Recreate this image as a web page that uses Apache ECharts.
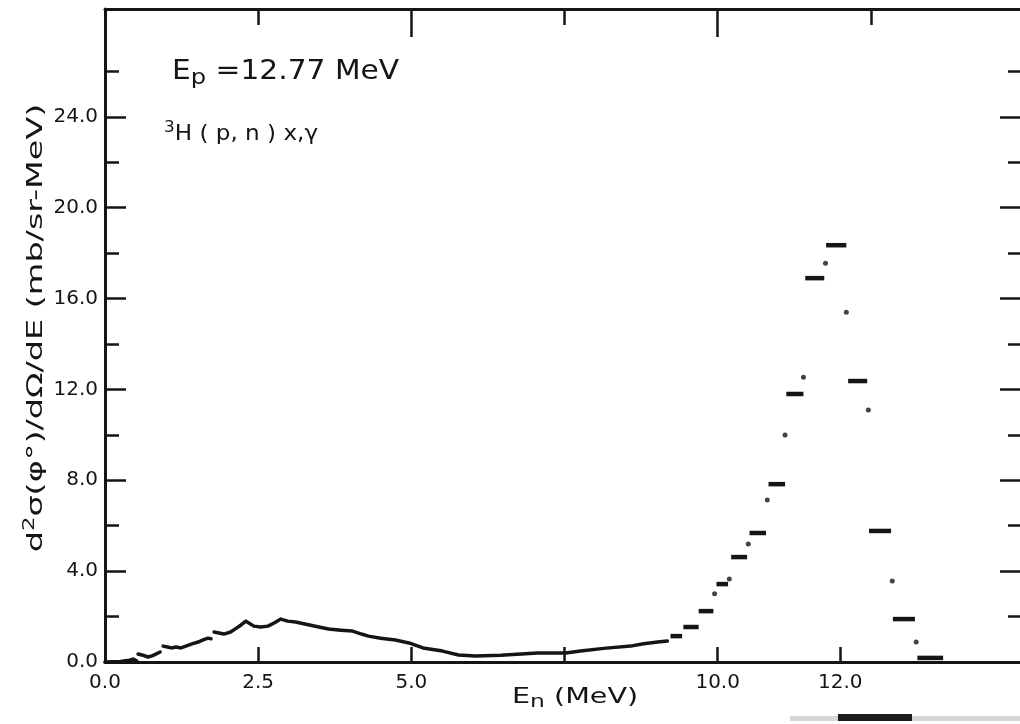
<!DOCTYPE html>
<html>
<head>
<meta charset="utf-8">
<script src="https://cdn.jsdelivr.net/npm/echarts@6/dist/echarts.min.js"></script>
<style>
  html, body { margin: 0; padding: 0; background: #fff; }
  #chart { width: 1020px; height: 724px; }
</style>
</head>
<body>
<div id="chart"></div>
<script>
// Neutron spectrum, 3H(p,n) at Ep = 12.77 MeV: [En (MeV), d2sigma/dOmega/dE (mb/sr-MeV)]
// Continuous low-energy part, drawn as separate pieces (the trace has small gaps).
const lowTraceA = [[0.0, 0.0], [0.25, 0.02], [0.40, 0.08], [0.46, 0.13], [0.52, 0.04]];
const lowTraceB = [[0.54, 0.35], [0.62, 0.30], [0.70, 0.22], [0.78, 0.28], [0.83, 0.35], [0.90, 0.44]];
const lowTraceC = [[0.95, 0.70], [1.02, 0.66], [1.08, 0.62], [1.16, 0.66], [1.24, 0.62], [1.32, 0.70],
                   [1.42, 0.80], [1.52, 0.88], [1.60, 0.97], [1.68, 1.05], [1.73, 1.02]];
const lowTraceD = [[1.78, 1.32], [1.86, 1.28], [1.94, 1.23], [2.05, 1.32], [2.14, 1.48], [2.22, 1.63],
                   [2.30, 1.80], [2.36, 1.70], [2.43, 1.58], [2.54, 1.54], [2.66, 1.58], [2.76, 1.72],
                   [2.87, 1.89], [2.98, 1.80], [3.11, 1.76], [3.30, 1.65], [3.49, 1.54], [3.65, 1.45],
                   [3.85, 1.40], [4.04, 1.36], [4.20, 1.22], [4.30, 1.14], [4.50, 1.05], [4.74, 0.97],
                   [4.96, 0.84], [5.19, 0.62], [5.35, 0.55], [5.51, 0.48], [5.77, 0.31], [6.05, 0.26],
                   [6.46, 0.30], [7.06, 0.40], [7.52, 0.40], [7.76, 0.48], [8.14, 0.60], [8.58, 0.70],
                   [8.79, 0.80], [9.02, 0.88], [9.18, 0.92]];

// High-energy histogram channels: [En start, En end, value]
const stepBins = [[9.23, 9.42, 1.14], [9.44, 9.69, 1.54], [9.69, 9.93, 2.24], [9.98, 10.17, 3.43],
                  [10.22, 10.48, 4.62], [10.52, 10.79, 5.68], [10.83, 11.10, 7.83], [11.12, 11.40, 11.8],
                  [11.43, 11.74, 16.9], [11.77, 12.10, 18.35], [12.13, 12.44, 12.37], [12.47, 12.83, 5.77],
                  [12.86, 13.22, 1.89], [13.26, 13.68, 0.18]];

// Single plotted points between the channels
const stepPoints = [[9.95, 3.0], [10.19, 3.65], [10.50, 5.19], [10.81, 7.13], [11.10, 9.99], [11.40, 12.54],
                    [11.76, 17.56], [12.10, 15.4], [12.46, 11.09], [12.85, 3.57], [13.24, 0.88]];

// Axis ticks and labels
const xLabelValues = [0, 2.5, 5, 10, 12];
const xBottomTicks = [2.5, 5, 7.5, 10, 12];
const xTopLongTicks = [5, 10];
const xTopShortTicks = [2.5, 7.5, 12.5];
const yLabelValues = [0, 4, 8, 12, 16, 20, 24];
const yLongTicks = [4, 8, 12, 16, 20, 24];
const yShortTicks = [2, 6, 10, 14, 18, 22, 26];

const INK = '#151515';
const FONT = 'DejaVu Sans';
const X_MIN = 0, X_MAX = 15, Y_MIN = 0, Y_MAX = 28.75;

function axisDef(dimMin, dimMax, position, ticks, tickLen, showLine, label) {
  return {
    type: 'value', position: position, min: dimMin, max: dimMax,
    axisLine: { show: showLine, onZero: false, lineStyle: { color: INK, width: 3 } },
    axisTick: { show: true, inside: true, length: tickLen, customValues: ticks,
                lineStyle: { color: INK, width: 2.5 } },
    axisLabel: label || { show: false },
    splitLine: { show: false }, minorTick: { show: false }
  };
}

const tickLabelStyle = {
  show: true, color: INK, fontFamily: FONT, fontSize: 20,
  formatter: v => Number(v).toFixed(1)
};

const traceSeries = [lowTraceA, lowTraceB, lowTraceC, lowTraceD].map(d => ({
  type: 'line', data: d, xAxisIndex: 0, yAxisIndex: 0,
  showSymbol: false, symbol: 'none', smooth: false, silent: true,
  lineStyle: { color: INK, width: 3.5, cap: 'round', join: 'round' }
}));

const chart = echarts.init(document.getElementById('chart'), null, { renderer: 'canvas' });
chart.setOption({
  backgroundColor: '#ffffff',
  animation: false,
  grid: { left: 105, right: -4, top: 9, bottom: 62, containLabel: false, outerBoundsMode: 'none' },
  xAxis: [
    axisDef(X_MIN, X_MAX, 'bottom', xBottomTicks, 15, true,
            Object.assign({ customValues: xLabelValues, margin: 11 }, tickLabelStyle)),
    axisDef(X_MIN, X_MAX, 'top', xTopShortTicks, 16, true),
    axisDef(X_MIN, X_MAX, 'top', xTopLongTicks, 28, false)
  ],
  yAxis: [
    axisDef(Y_MIN, Y_MAX, 'left', yLongTicks, 21, true,
            Object.assign({ customValues: yLabelValues, margin: 7 }, tickLabelStyle)),
    axisDef(Y_MIN, Y_MAX, 'left', yShortTicks, 14, false),
    axisDef(Y_MIN, Y_MAX, 'right', yLongTicks, 24, true),
    axisDef(Y_MIN, Y_MAX, 'right', yShortTicks, 16, false)
  ],
  series: traceSeries.concat([
    {
      type: 'custom', data: stepBins, xAxisIndex: 0, yAxisIndex: 0, silent: true,
      encode: { x: [0, 1], y: 2 },
      renderItem: function (params, api) {
        const a = api.coord([api.value(0), api.value(2)]);
        const b = api.coord([api.value(1), api.value(2)]);
        return {
          type: 'line',
          shape: { x1: a[0], y1: a[1], x2: b[0], y2: b[1] },
          style: { stroke: INK, lineWidth: 4.5, lineCap: 'butt' }
        };
      }
    },
    {
      type: 'scatter', data: stepPoints, xAxisIndex: 0, yAxisIndex: 0, silent: true,
      symbol: 'circle', symbolSize: 5, itemStyle: { color: INK }
    }
  ]),
  graphic: [
    {
      type: 'text', x: 172, y: 72, scaleX: 1.1,
      style: {
        text: '{m|E}{s|p}{m| =12.77 MeV}', align: 'left', verticalAlign: 'middle',
        rich: {
          m: { fontFamily: FONT, fontSize: 27, lineHeight: 34, fill: INK },
          s: { fontFamily: FONT, fontSize: 22, lineHeight: 16, verticalAlign: 'bottom', fill: INK }
        }
      }
    },
    {
      type: 'text', x: 164, y: 134, scaleX: 1.05,
      style: {
        text: '{u|3}{m|H ( p, n ) x,γ}', align: 'left', verticalAlign: 'middle',
        rich: {
          m: { fontFamily: FONT, fontSize: 22, lineHeight: 28, fill: INK },
          u: { fontFamily: FONT, fontSize: 16, lineHeight: 14, verticalAlign: 'top', fill: INK }
        }
      }
    },
    {
      type: 'text', x: 36, y: 328, rotation: Math.PI / 2, scaleX: 1.52,
      style: {
        text: '{m|d}{u|2}{m|σ(φ°)/dΩ/dE (mb/sr-MeV)}', align: 'center', verticalAlign: 'middle',
        rich: {
          m: { fontFamily: FONT, fontSize: 22, lineHeight: 26, fill: INK },
          u: { fontFamily: FONT, fontSize: 15, lineHeight: 14, verticalAlign: 'top', fill: INK }
        }
      }
    },
    {
      type: 'text', x: 512, y: 697, scaleX: 1.3,
      style: {
        text: '{m|E}{s|n}{m| (MeV)}', align: 'left', verticalAlign: 'middle',
        rich: {
          m: { fontFamily: FONT, fontSize: 22, lineHeight: 28, fill: INK },
          s: { fontFamily: FONT, fontSize: 18, lineHeight: 14, verticalAlign: 'bottom', fill: INK }
        }
      }
    },
    // print band below the frame
    { type: 'rect', shape: { x: 790, y: 716, width: 230, height: 5 }, style: { fill: '#d6d6d6' }, silent: true },
    { type: 'rect', shape: { x: 838, y: 714, width: 74, height: 7 }, style: { fill: '#1c1c1c' }, silent: true }
  ]
});
</script>
</body>
</html>
